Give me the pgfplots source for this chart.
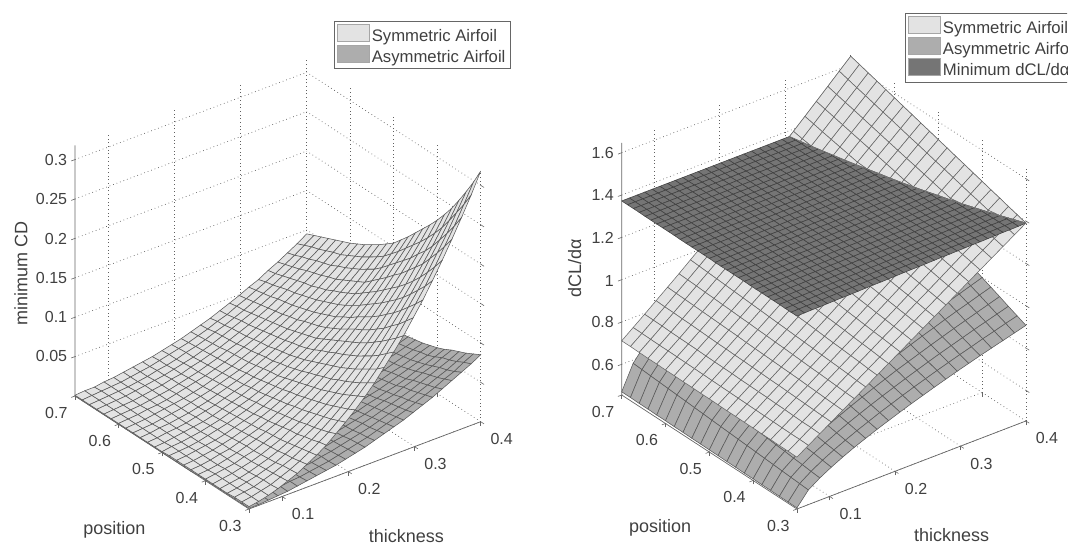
\documentclass[border=0pt]{standalone}
\usepackage{pgfplots}
\pgfplotsset{compat=1.18}
\usepackage{fontspec}
\setmainfont{Liberation Sans}
\definecolor{txt}{gray}{0.25}
\definecolor{lt}{gray}{0.89}
\definecolor{md}{gray}{0.68}
\definecolor{dk}{gray}{0.46}
\pgfplotsset{
  panel/.style={
    anchor=south west,
    xmin=0.05,xmax=0.4,ymin=0.3,ymax=0.7,
    xtick={0.1,0.2,0.3,0.4},ytick={0.3,0.4,0.5,0.6,0.7},
    tick pos=left,
    grid=major,
    grid style={line width=0.7pt,dash pattern=on 0.7pt off 3pt,gray!75!black},
    axis line style={draw=none},
    tick style={color=gray!80!black,line width=0.6pt},
    major tick length=4pt,
    tick align=outside,
    tick label style={font=\fontsize{16}{18}\selectfont,text=txt},
    xticklabel style={xshift=11pt,yshift=-3pt},
    yticklabel style={xshift=-6pt,yshift=-2.5pt},
    zticklabel style={xshift=-1pt,yshift=-4pt},
    /pgf/number format/assume math mode=true,
    /pgf/number format/fixed,
    label style={font=\fontsize{18}{20}\selectfont,text=txt},
    legend cell align=left,
    legend style={font=\fontsize{16.7}{21}\selectfont,text=txt,draw=gray!80!black,line width=0.8pt,inner xsep=3pt,inner ysep=2.5pt,anchor=north west,row sep=0pt},
    clip=false,
  },
  leg/.style={legend image code/.code={\path[draw=gray!70,fill=#1,line width=0.6pt] (0pt,-5pt) rectangle (32pt,12pt);}},
  sf/.style 2 args={surf,forget plot,shader=faceted,faceted color=#2,line width=0.55pt,colormap={c#1}{color=(#1) color=(#1)}},
  table/gL/.style={x expr={0.05+0.35*mod(\coordindex,25)/24},y expr={0.3+0.4*floor((\coordindex+0.5)/25)/24},z index=0,row sep=crcr,header=false},
  table/gR/.style={x expr={0.05+0.35*mod(\coordindex,21)/20},y expr={0.3+0.4*floor((\coordindex+0.5)/21)/20},z index=0,row sep=crcr,header=false},
  table/gD/.style={x expr={0.05+0.35*mod(\coordindex,31)/30},y expr={0.3+0.4*floor((\coordindex+0.5)/31)/30},z index=0,row sep=crcr,header=false},
}
\begin{document}
\begin{tikzpicture}
\path[use as bounding box] (0,0) rectangle (1069pt,543pt);
\clip (0,0) rectangle (1067pt,543pt);
\begin{axis}[panel,at={(75pt,34pt)},
  x={(662pt,249.4pt)},y={(-435pt,282.5pt)},z={(0pt,788pt)},
  zmin=0,zmax=0.318,ztick={0.05,0.1,0.15,0.2,0.25,0.3},
  xlabel={thickness},ylabel={position},zlabel={minimum CD},
  x label style={at={(axis description cs:0.817,-0.061)},anchor=center,rotate=0},
  y label style={at={(axis description cs:0.097,-0.046)},anchor=center,rotate=0},
  z label style={at={(axis description cs:-0.133,0.523)},anchor=center},
  legend style={at={(axis description cs:0.638,1.083)}},
]
\addlegendimage{leg=lt}
\addlegendimage{leg=md}
\addplot3[sf={md}{black!65},mesh/rows=25,mesh/cols=25] table[gL]{
.001\\.001\\.002\\.003\\.004\\.006\\.008\\.010\\.012\\.014\\.017\\.020\\.023\\.027\\.031\\.035\\.039\\.044\\.049\\.054\\.060\\.066\\.072\\.078\\.085\\
.001\\.001\\.002\\.003\\.004\\.006\\.007\\.009\\.011\\.013\\.016\\.019\\.022\\.025\\.029\\.033\\.037\\.041\\.046\\.051\\.056\\.062\\.067\\.074\\.080\\
.001\\.001\\.002\\.003\\.004\\.005\\.007\\.009\\.010\\.013\\.015\\.018\\.021\\.024\\.027\\.031\\.035\\.039\\.043\\.048\\.053\\.058\\.063\\.069\\.075\\
.001\\.001\\.002\\.003\\.004\\.005\\.006\\.008\\.010\\.012\\.014\\.017\\.019\\.022\\.026\\.029\\.033\\.037\\.041\\.045\\.050\\.055\\.060\\.065\\.071\\
.001\\.001\\.002\\.003\\.004\\.005\\.006\\.008\\.009\\.011\\.013\\.016\\.018\\.021\\.024\\.027\\.031\\.035\\.038\\.043\\.047\\.052\\.056\\.062\\.067\\
.001\\.001\\.002\\.002\\.003\\.004\\.006\\.007\\.009\\.010\\.012\\.015\\.017\\.020\\.022\\.025\\.029\\.032\\.036\\.039\\.043\\.048\\.052\\.057\\.062\\
.001\\.001\\.002\\.002\\.003\\.004\\.005\\.007\\.008\\.010\\.012\\.014\\.016\\.018\\.021\\.024\\.027\\.030\\.033\\.037\\.041\\.045\\.049\\.053\\.058\\
.001\\.001\\.001\\.002\\.003\\.004\\.005\\.006\\.008\\.009\\.011\\.013\\.015\\.017\\.020\\.022\\.025\\.028\\.032\\.035\\.039\\.042\\.046\\.051\\.055\\
.000\\.001\\.001\\.002\\.003\\.004\\.005\\.006\\.007\\.009\\.010\\.012\\.014\\.016\\.019\\.021\\.024\\.027\\.030\\.033\\.036\\.040\\.044\\.048\\.052\\
.000\\.001\\.001\\.002\\.003\\.004\\.005\\.006\\.007\\.008\\.010\\.012\\.014\\.016\\.018\\.020\\.023\\.026\\.029\\.032\\.035\\.039\\.042\\.046\\.050\\
.000\\.001\\.001\\.002\\.003\\.003\\.004\\.005\\.007\\.008\\.010\\.011\\.013\\.015\\.017\\.020\\.022\\.025\\.028\\.031\\.034\\.037\\.040\\.044\\.048\\
.000\\.001\\.001\\.002\\.002\\.003\\.004\\.005\\.006\\.008\\.009\\.011\\.013\\.015\\.017\\.019\\.021\\.024\\.026\\.029\\.032\\.035\\.039\\.042\\.046\\
.000\\.001\\.001\\.002\\.002\\.003\\.004\\.005\\.006\\.007\\.009\\.010\\.012\\.014\\.016\\.018\\.020\\.023\\.025\\.028\\.031\\.034\\.037\\.040\\.044\\
.000\\.001\\.001\\.002\\.002\\.003\\.004\\.005\\.006\\.007\\.008\\.010\\.012\\.013\\.015\\.017\\.019\\.022\\.024\\.027\\.029\\.032\\.035\\.039\\.042\\
.000\\.001\\.001\\.002\\.002\\.003\\.004\\.005\\.006\\.007\\.008\\.010\\.011\\.013\\.015\\.017\\.019\\.021\\.024\\.026\\.029\\.032\\.035\\.038\\.041\\
.000\\.001\\.001\\.001\\.002\\.003\\.004\\.004\\.005\\.007\\.008\\.009\\.011\\.012\\.014\\.016\\.018\\.020\\.022\\.025\\.027\\.030\\.033\\.036\\.039\\
.000\\.001\\.001\\.001\\.002\\.003\\.003\\.004\\.005\\.006\\.008\\.009\\.010\\.012\\.014\\.016\\.017\\.020\\.022\\.024\\.027\\.029\\.032\\.035\\.038\\
.000\\.001\\.001\\.001\\.002\\.003\\.003\\.004\\.005\\.006\\.007\\.008\\.010\\.011\\.013\\.015\\.017\\.019\\.021\\.023\\.025\\.028\\.030\\.033\\.036\\
.000\\.001\\.001\\.001\\.002\\.002\\.003\\.004\\.005\\.006\\.007\\.008\\.010\\.011\\.013\\.014\\.016\\.018\\.020\\.022\\.025\\.027\\.030\\.032\\.035\\
.000\\.001\\.001\\.001\\.002\\.002\\.003\\.004\\.005\\.006\\.007\\.008\\.009\\.011\\.012\\.014\\.016\\.018\\.020\\.022\\.024\\.026\\.029\\.031\\.034\\
.000\\.001\\.001\\.001\\.002\\.002\\.003\\.004\\.005\\.006\\.007\\.008\\.009\\.010\\.012\\.013\\.015\\.017\\.019\\.021\\.023\\.025\\.028\\.030\\.033\\
.000\\.001\\.001\\.001\\.002\\.002\\.003\\.004\\.004\\.005\\.006\\.008\\.009\\.010\\.012\\.013\\.015\\.016\\.018\\.020\\.022\\.025\\.027\\.029\\.032\\
.000\\.001\\.001\\.001\\.002\\.002\\.003\\.004\\.004\\.005\\.006\\.007\\.008\\.010\\.011\\.013\\.014\\.016\\.018\\.020\\.022\\.024\\.026\\.029\\.031\\
.000\\.001\\.001\\.001\\.002\\.002\\.003\\.003\\.004\\.005\\.006\\.007\\.008\\.010\\.011\\.012\\.014\\.016\\.018\\.019\\.021\\.024\\.026\\.028\\.031\\
.000\\.000\\.001\\.001\\.002\\.002\\.003\\.003\\.004\\.005\\.006\\.007\\.008\\.009\\.011\\.012\\.014\\.015\\.017\\.019\\.021\\.023\\.025\\.028\\.030\\
};
\addplot3[sf={lt}{black!65},mesh/rows=25,mesh/cols=25] table[gL]{
.003\\.005\\.008\\.012\\.017\\.022\\.029\\.036\\.044\\.054\\.064\\.075\\.087\\.100\\.115\\.130\\.146\\.164\\.182\\.202\\.223\\.245\\.268\\.292\\.318\\
.003\\.005\\.008\\.011\\.016\\.021\\.027\\.034\\.042\\.050\\.060\\.070\\.082\\.094\\.107\\.122\\.137\\.154\\.171\\.189\\.209\\.230\\.251\\.274\\.298\\
.003\\.005\\.007\\.011\\.015\\.020\\.025\\.032\\.039\\.047\\.056\\.066\\.077\\.088\\.101\\.114\\.129\\.144\\.161\\.178\\.196\\.216\\.236\\.258\\.280\\
.002\\.004\\.007\\.010\\.014\\.018\\.024\\.030\\.037\\.044\\.053\\.062\\.072\\.083\\.095\\.107\\.121\\.136\\.151\\.167\\.184\\.203\\.222\\.242\\.263\\
.002\\.004\\.006\\.009\\.013\\.017\\.022\\.028\\.034\\.042\\.050\\.058\\.068\\.078\\.089\\.101\\.114\\.127\\.142\\.157\\.173\\.190\\.208\\.227\\.247\\
.002\\.004\\.006\\.009\\.012\\.016\\.021\\.026\\.033\\.039\\.047\\.055\\.064\\.074\\.084\\.095\\.107\\.120\\.134\\.148\\.163\\.180\\.196\\.214\\.233\\
.002\\.004\\.006\\.008\\.012\\.015\\.020\\.025\\.031\\.037\\.044\\.052\\.060\\.069\\.079\\.090\\.101\\.113\\.126\\.140\\.154\\.170\\.186\\.202\\.220\\
.002\\.003\\.005\\.008\\.011\\.015\\.019\\.024\\.029\\.035\\.042\\.049\\.057\\.066\\.075\\.085\\.096\\.107\\.119\\.132\\.146\\.160\\.175\\.191\\.208\\
.002\\.003\\.005\\.008\\.010\\.014\\.018\\.022\\.027\\.033\\.039\\.046\\.054\\.062\\.071\\.081\\.091\\.102\\.113\\.125\\.138\\.152\\.166\\.181\\.197\\
.002\\.003\\.005\\.007\\.010\\.013\\.017\\.021\\.026\\.031\\.037\\.044\\.051\\.059\\.067\\.076\\.086\\.096\\.107\\.118\\.130\\.143\\.157\\.171\\.186\\
.002\\.003\\.005\\.007\\.009\\.012\\.016\\.020\\.024\\.029\\.035\\.041\\.048\\.055\\.063\\.072\\.081\\.090\\.100\\.111\\.123\\.135\\.148\\.161\\.175\\
.002\\.003\\.004\\.006\\.009\\.012\\.015\\.019\\.023\\.028\\.033\\.039\\.045\\.052\\.059\\.067\\.076\\.085\\.095\\.105\\.116\\.127\\.139\\.152\\.165\\
.001\\.003\\.004\\.006\\.008\\.011\\.014\\.018\\.022\\.026\\.031\\.037\\.042\\.049\\.056\\.063\\.071\\.080\\.089\\.099\\.109\\.119\\.131\\.143\\.155\\
.001\\.002\\.004\\.006\\.008\\.010\\.013\\.017\\.021\\.025\\.030\\.035\\.041\\.047\\.053\\.060\\.068\\.076\\.085\\.094\\.104\\.114\\.125\\.136\\.148\\
.001\\.002\\.004\\.005\\.007\\.010\\.013\\.016\\.020\\.024\\.028\\.033\\.039\\.044\\.051\\.058\\.065\\.073\\.081\\.090\\.099\\.109\\.119\\.130\\.141\\
.001\\.002\\.004\\.005\\.007\\.009\\.012\\.015\\.019\\.023\\.027\\.032\\.037\\.043\\.049\\.055\\.062\\.070\\.077\\.086\\.095\\.104\\.114\\.124\\.135\\
.001\\.002\\.003\\.005\\.007\\.009\\.012\\.015\\.018\\.022\\.026\\.030\\.035\\.041\\.046\\.053\\.059\\.066\\.074\\.082\\.090\\.099\\.109\\.119\\.129\\
.001\\.002\\.003\\.005\\.007\\.009\\.011\\.014\\.017\\.021\\.025\\.029\\.034\\.039\\.045\\.051\\.057\\.064\\.071\\.079\\.087\\.096\\.105\\.114\\.124\\
.001\\.002\\.003\\.005\\.006\\.008\\.011\\.014\\.017\\.020\\.024\\.028\\.033\\.038\\.043\\.049\\.055\\.061\\.068\\.076\\.083\\.092\\.100\\.109\\.119\\
.001\\.002\\.003\\.004\\.006\\.008\\.010\\.013\\.016\\.019\\.023\\.027\\.032\\.036\\.041\\.047\\.053\\.059\\.066\\.073\\.081\\.089\\.097\\.106\\.115\\
.001\\.002\\.003\\.004\\.006\\.008\\.010\\.013\\.015\\.019\\.022\\.026\\.030\\.035\\.040\\.045\\.051\\.057\\.064\\.071\\.078\\.086\\.094\\.102\\.111\\
.001\\.002\\.003\\.004\\.006\\.008\\.010\\.012\\.015\\.018\\.021\\.025\\.029\\.034\\.039\\.044\\.049\\.055\\.061\\.068\\.075\\.082\\.090\\.098\\.107\\
.001\\.002\\.003\\.004\\.005\\.007\\.009\\.012\\.014\\.017\\.021\\.024\\.028\\.033\\.037\\.042\\.047\\.053\\.059\\.065\\.072\\.079\\.087\\.095\\.103\\
.001\\.002\\.003\\.004\\.005\\.007\\.009\\.011\\.014\\.017\\.020\\.023\\.027\\.031\\.036\\.040\\.046\\.051\\.057\\.063\\.069\\.076\\.083\\.091\\.099\\
.001\\.002\\.002\\.004\\.005\\.007\\.009\\.011\\.013\\.016\\.019\\.022\\.026\\.030\\.034\\.039\\.044\\.049\\.055\\.060\\.067\\.073\\.080\\.087\\.095\\
};
\legend{Symmetric Airfoil,Asymmetric Airfoil}
\draw[gray!80!black,line width=0.7pt] (axis cs:0.05,0.7,0.318)--(axis cs:0.05,0.7,0)--(axis cs:0.05,0.3,0)--(axis cs:0.4,0.3,0);
\end{axis}
\begin{axis}[panel,at={(621.7pt,34pt)},
  x={(654.3pt,251.4pt)},y={(-438pt,285pt)},z={(0pt,211.6pt)},
  zmin=0.455,zmax=1.646,ztick={0.6,0.8,1,1.2,1.4,1.6},
  xlabel={thickness},ylabel={position},zlabel={dCL/dα},
  x label style={at={(axis description cs:0.8165,-0.057)},anchor=center,rotate=0},
  y label style={at={(axis description cs:0.095,-0.042)},anchor=center,rotate=0},
  z label style={at={(axis description cs:-0.116,0.530)},anchor=center},
  legend style={at={(axis description cs:0.7007,1.092)}},
]
\addlegendimage{leg=lt}
\addlegendimage{leg=md}
\addlegendimage{leg=dk}
\addplot3[sf={md}{black!65},mesh/rows=21,mesh/cols=21] table[gR]{
.460\\.524\\.560\\.590\\.617\\.642\\.664\\.686\\.706\\.726\\.745\\.763\\.781\\.798\\.815\\.831\\.847\\.862\\.877\\.892\\.907\\
.461\\.527\\.564\\.596\\.624\\.649\\.673\\.695\\.717\\.737\\.757\\.776\\.794\\.812\\.829\\.846\\.862\\.879\\.894\\.910\\.925\\
.461\\.530\\.569\\.602\\.630\\.657\\.682\\.705\\.727\\.748\\.768\\.788\\.807\\.826\\.844\\.861\\.878\\.895\\.911\\.927\\.943\\
.462\\.533\\.573\\.607\\.637\\.665\\.690\\.714\\.737\\.759\\.780\\.801\\.820\\.839\\.858\\.876\\.894\\.911\\.928\\.945\\.962\\
.462\\.536\\.578\\.613\\.644\\.672\\.699\\.724\\.747\\.770\\.792\\.813\\.833\\.853\\.873\\.891\\.910\\.928\\.945\\.963\\.980\\
.463\\.539\\.582\\.618\\.651\\.680\\.707\\.733\\.758\\.781\\.804\\.825\\.847\\.867\\.887\\.907\\.926\\.944\\.962\\.980\\.998\\
.463\\.542\\.587\\.624\\.657\\.688\\.716\\.742\\.768\\.792\\.815\\.838\\.860\\.881\\.902\\.922\\.941\\.961\\.979\\.998\\1.016\\
.464\\.545\\.591\\.630\\.664\\.695\\.724\\.752\\.778\\.803\\.827\\.850\\.873\\.895\\.916\\.937\\.957\\.977\\.996\\1.015\\1.034\\
.464\\.548\\.596\\.635\\.671\\.703\\.733\\.761\\.788\\.814\\.839\\.863\\.886\\.909\\.931\\.952\\.973\\.993\\1.013\\1.033\\1.052\\
.465\\.551\\.600\\.641\\.677\\.711\\.742\\.771\\.799\\.825\\.851\\.875\\.899\\.922\\.945\\.967\\.989\\1.010\\1.030\\1.051\\1.070\\
.465\\.554\\.605\\.647\\.684\\.718\\.750\\.780\\.809\\.836\\.862\\.888\\.912\\.936\\.960\\.982\\1.004\\1.026\\1.047\\1.068\\1.089\\
.466\\.557\\.609\\.652\\.691\\.726\\.759\\.790\\.819\\.847\\.874\\.900\\.926\\.950\\.974\\.997\\1.020\\1.042\\1.064\\1.086\\1.107\\
.466\\.560\\.614\\.658\\.697\\.734\\.767\\.799\\.829\\.858\\.886\\.913\\.939\\.964\\.989\\1.012\\1.036\\1.059\\1.081\\1.103\\1.125\\
.467\\.563\\.618\\.664\\.704\\.741\\.776\\.808\\.839\\.869\\.898\\.925\\.952\\.978\\1.003\\1.028\\1.052\\1.075\\1.098\\1.121\\1.143\\
.467\\.566\\.622\\.669\\.711\\.749\\.784\\.818\\.850\\.880\\.909\\.938\\.965\\.992\\1.018\\1.043\\1.067\\1.092\\1.115\\1.138\\1.161\\
.468\\.569\\.627\\.675\\.718\\.757\\.793\\.827\\.860\\.891\\.921\\.950\\.978\\1.005\\1.032\\1.058\\1.083\\1.108\\1.132\\1.156\\1.179\\
.468\\.572\\.631\\.681\\.724\\.764\\.801\\.837\\.870\\.902\\.933\\.963\\.991\\1.019\\1.046\\1.073\\1.099\\1.124\\1.149\\1.173\\1.197\\
.469\\.575\\.636\\.686\\.731\\.772\\.810\\.846\\.880\\.913\\.945\\.975\\1.005\\1.033\\1.061\\1.088\\1.115\\1.141\\1.166\\1.191\\1.216\\
.469\\.578\\.640\\.692\\.738\\.780\\.819\\.855\\.891\\.924\\.956\\.987\\1.018\\1.047\\1.075\\1.103\\1.130\\1.157\\1.183\\1.209\\1.234\\
.470\\.581\\.645\\.697\\.744\\.787\\.827\\.865\\.901\\.935\\.968\\1.000\\1.031\\1.061\\1.090\\1.118\\1.146\\1.174\\1.200\\1.226\\1.252\\
.470\\.584\\.649\\.703\\.751\\.795\\.836\\.874\\.911\\.946\\.980\\1.012\\1.044\\1.075\\1.104\\1.134\\1.162\\1.190\\1.217\\1.244\\1.270\\
};
\addplot3[sf={lt}{black!60},mesh/rows=21,mesh/cols=21] table[gR]{
.700\\.735\\.769\\.804\\.838\\.873\\.907\\.942\\.976\\1.011\\1.045\\1.080\\1.114\\1.149\\1.183\\1.218\\1.252\\1.287\\1.321\\1.356\\1.390\\
.701\\.736\\.771\\.805\\.840\\.875\\.910\\.945\\.980\\1.016\\1.051\\1.086\\1.121\\1.156\\1.191\\1.226\\1.262\\1.297\\1.332\\1.367\\1.403\\
.701\\.736\\.771\\.807\\.842\\.878\\.914\\.950\\.985\\1.021\\1.056\\1.092\\1.128\\1.163\\1.199\\1.235\\1.271\\1.306\\1.342\\1.378\\1.415\\
.702\\.737\\.773\\.809\\.845\\.881\\.917\\.953\\.989\\1.025\\1.062\\1.098\\1.135\\1.171\\1.208\\1.244\\1.281\\1.317\\1.354\\1.391\\1.428\\
.702\\.738\\.775\\.811\\.847\\.884\\.920\\.957\\.993\\1.030\\1.067\\1.104\\1.141\\1.178\\1.215\\1.253\\1.290\\1.327\\1.365\\1.402\\1.440\\
.703\\.739\\.776\\.813\\.850\\.886\\.923\\.960\\.998\\1.035\\1.073\\1.110\\1.148\\1.186\\1.223\\1.261\\1.299\\1.337\\1.375\\1.414\\1.453\\
.703\\.740\\.778\\.815\\.852\\.889\\.927\\.964\\1.002\\1.040\\1.078\\1.116\\1.155\\1.193\\1.232\\1.270\\1.309\\1.347\\1.387\\1.426\\1.465\\
.704\\.741\\.779\\.816\\.854\\.892\\.930\\.968\\1.006\\1.045\\1.084\\1.122\\1.161\\1.200\\1.239\\1.279\\1.318\\1.358\\1.398\\1.438\\1.478\\
.704\\.742\\.780\\.818\\.856\\.895\\.933\\.972\\1.010\\1.050\\1.089\\1.128\\1.168\\1.208\\1.247\\1.287\\1.328\\1.368\\1.409\\1.450\\1.490\\
.705\\.743\\.781\\.820\\.858\\.897\\.936\\.975\\1.015\\1.054\\1.094\\1.134\\1.174\\1.215\\1.255\\1.296\\1.337\\1.379\\1.420\\1.461\\1.503\\
.706\\.744\\.783\\.822\\.860\\.900\\.939\\.979\\1.019\\1.059\\1.099\\1.140\\1.181\\1.222\\1.263\\1.305\\1.347\\1.389\\1.431\\1.473\\1.515\\
.706\\.745\\.784\\.823\\.862\\.902\\.942\\.982\\1.023\\1.064\\1.105\\1.146\\1.187\\1.229\\1.271\\1.313\\1.356\\1.399\\1.441\\1.485\\1.528\\
.707\\.746\\.785\\.825\\.865\\.905\\.945\\.986\\1.027\\1.068\\1.110\\1.152\\1.194\\1.236\\1.279\\1.322\\1.365\\1.409\\1.452\\1.496\\1.540\\
.707\\.747\\.786\\.826\\.867\\.907\\.948\\.989\\1.031\\1.073\\1.115\\1.158\\1.200\\1.244\\1.287\\1.331\\1.375\\1.419\\1.463\\1.508\\1.553\\
.708\\.748\\.788\\.828\\.869\\.910\\.951\\.993\\1.035\\1.077\\1.120\\1.164\\1.207\\1.251\\1.295\\1.340\\1.384\\1.429\\1.474\\1.520\\1.565\\
.708\\.749\\.789\\.830\\.871\\.912\\.954\\.996\\1.039\\1.082\\1.125\\1.170\\1.213\\1.258\\1.303\\1.348\\1.393\\1.439\\1.485\\1.531\\1.578\\
.709\\.750\\.790\\.832\\.873\\.915\\.957\\1.000\\1.043\\1.087\\1.130\\1.175\\1.219\\1.265\\1.310\\1.357\\1.402\\1.449\\1.496\\1.543\\1.590\\
.709\\.750\\.791\\.833\\.875\\.917\\.960\\1.003\\1.047\\1.091\\1.136\\1.181\\1.226\\1.272\\1.318\\1.365\\1.411\\1.459\\1.507\\1.555\\1.603\\
.710\\.751\\.793\\.835\\.877\\.920\\.963\\1.006\\1.051\\1.096\\1.141\\1.187\\1.232\\1.279\\1.326\\1.373\\1.420\\1.469\\1.517\\1.566\\1.615\\
.711\\.752\\.794\\.836\\.879\\.922\\.966\\1.010\\1.055\\1.100\\1.146\\1.192\\1.238\\1.286\\1.333\\1.381\\1.430\\1.479\\1.528\\1.578\\1.628\\
.711\\.753\\.795\\.838\\.881\\.924\\.969\\1.013\\1.059\\1.105\\1.151\\1.198\\1.245\\1.292\\1.341\\1.389\\1.439\\1.489\\1.539\\1.590\\1.640\\
};
\addplot3[sf={dk}{black!75},mesh/rows=31,mesh/cols=31] table[gD]{
1.367\\1.368\\1.369\\1.369\\1.370\\1.371\\1.372\\1.372\\1.373\\1.374\\1.375\\1.375\\1.376\\1.377\\1.378\\1.379\\1.379\\1.380\\1.381\\1.382\\1.382\\1.383\\1.384\\1.385\\1.385\\1.386\\1.387\\1.388\\1.388\\1.389\\1.390\\
1.367\\1.368\\1.369\\1.369\\1.370\\1.371\\1.372\\1.372\\1.373\\1.374\\1.375\\1.375\\1.376\\1.377\\1.378\\1.378\\1.379\\1.380\\1.381\\1.381\\1.382\\1.383\\1.383\\1.384\\1.385\\1.386\\1.386\\1.387\\1.388\\1.389\\1.389\\
1.367\\1.368\\1.369\\1.369\\1.370\\1.371\\1.372\\1.372\\1.373\\1.374\\1.374\\1.375\\1.376\\1.377\\1.377\\1.378\\1.379\\1.379\\1.380\\1.381\\1.382\\1.382\\1.383\\1.384\\1.384\\1.385\\1.386\\1.387\\1.387\\1.388\\1.389\\
1.368\\1.368\\1.369\\1.369\\1.370\\1.371\\1.372\\1.372\\1.373\\1.374\\1.374\\1.375\\1.376\\1.376\\1.377\\1.378\\1.379\\1.379\\1.380\\1.381\\1.381\\1.382\\1.383\\1.383\\1.384\\1.385\\1.385\\1.386\\1.387\\1.387\\1.388\\
1.368\\1.368\\1.369\\1.370\\1.370\\1.371\\1.372\\1.372\\1.373\\1.374\\1.374\\1.375\\1.376\\1.376\\1.377\\1.378\\1.378\\1.379\\1.380\\1.380\\1.381\\1.382\\1.382\\1.383\\1.384\\1.384\\1.385\\1.386\\1.386\\1.387\\1.388\\
1.368\\1.368\\1.369\\1.370\\1.370\\1.371\\1.372\\1.372\\1.373\\1.374\\1.374\\1.375\\1.376\\1.376\\1.377\\1.378\\1.378\\1.379\\1.380\\1.380\\1.381\\1.381\\1.382\\1.383\\1.383\\1.384\\1.385\\1.385\\1.386\\1.387\\1.387\\
1.368\\1.369\\1.369\\1.370\\1.370\\1.371\\1.372\\1.372\\1.373\\1.374\\1.374\\1.375\\1.375\\1.376\\1.377\\1.377\\1.378\\1.379\\1.379\\1.380\\1.380\\1.381\\1.382\\1.382\\1.383\\1.383\\1.384\\1.385\\1.385\\1.386\\1.386\\
1.368\\1.369\\1.369\\1.370\\1.370\\1.371\\1.372\\1.372\\1.373\\1.373\\1.374\\1.375\\1.375\\1.376\\1.376\\1.377\\1.378\\1.378\\1.379\\1.379\\1.380\\1.381\\1.381\\1.382\\1.382\\1.383\\1.383\\1.384\\1.385\\1.385\\1.386\\
1.368\\1.369\\1.369\\1.370\\1.371\\1.371\\1.372\\1.372\\1.373\\1.373\\1.374\\1.375\\1.375\\1.376\\1.376\\1.377\\1.377\\1.378\\1.379\\1.379\\1.380\\1.380\\1.381\\1.381\\1.382\\1.382\\1.383\\1.384\\1.384\\1.385\\1.385\\
1.369\\1.369\\1.370\\1.370\\1.371\\1.371\\1.372\\1.372\\1.373\\1.373\\1.374\\1.374\\1.375\\1.376\\1.376\\1.377\\1.377\\1.378\\1.378\\1.379\\1.379\\1.380\\1.380\\1.381\\1.381\\1.382\\1.383\\1.383\\1.384\\1.384\\1.385\\
1.369\\1.369\\1.370\\1.370\\1.371\\1.371\\1.372\\1.372\\1.373\\1.373\\1.374\\1.374\\1.375\\1.375\\1.376\\1.376\\1.377\\1.377\\1.378\\1.378\\1.379\\1.380\\1.380\\1.381\\1.381\\1.382\\1.382\\1.383\\1.383\\1.384\\1.384\\
1.369\\1.369\\1.370\\1.370\\1.371\\1.371\\1.372\\1.372\\1.373\\1.373\\1.374\\1.374\\1.375\\1.375\\1.376\\1.376\\1.377\\1.377\\1.378\\1.378\\1.379\\1.379\\1.380\\1.380\\1.381\\1.381\\1.382\\1.382\\1.382\\1.383\\1.383\\
1.369\\1.369\\1.370\\1.370\\1.371\\1.371\\1.372\\1.372\\1.373\\1.373\\1.374\\1.374\\1.375\\1.375\\1.376\\1.376\\1.376\\1.377\\1.377\\1.378\\1.378\\1.379\\1.379\\1.380\\1.380\\1.381\\1.381\\1.381\\1.382\\1.382\\1.383\\
1.369\\1.370\\1.370\\1.370\\1.371\\1.371\\1.372\\1.372\\1.373\\1.373\\1.373\\1.374\\1.374\\1.375\\1.375\\1.376\\1.376\\1.377\\1.377\\1.377\\1.378\\1.378\\1.379\\1.379\\1.380\\1.380\\1.380\\1.381\\1.381\\1.382\\1.382\\
1.369\\1.370\\1.370\\1.371\\1.371\\1.371\\1.372\\1.372\\1.373\\1.373\\1.373\\1.374\\1.374\\1.375\\1.375\\1.375\\1.376\\1.376\\1.377\\1.377\\1.378\\1.378\\1.378\\1.379\\1.379\\1.380\\1.380\\1.380\\1.381\\1.381\\1.382\\
1.370\\1.370\\1.370\\1.371\\1.371\\1.371\\1.372\\1.372\\1.373\\1.373\\1.373\\1.374\\1.374\\1.374\\1.375\\1.375\\1.376\\1.376\\1.376\\1.377\\1.377\\1.377\\1.378\\1.378\\1.379\\1.379\\1.379\\1.380\\1.380\\1.380\\1.381\\
1.370\\1.370\\1.370\\1.371\\1.371\\1.371\\1.372\\1.372\\1.373\\1.373\\1.373\\1.374\\1.374\\1.374\\1.375\\1.375\\1.375\\1.376\\1.376\\1.376\\1.377\\1.377\\1.378\\1.378\\1.378\\1.379\\1.379\\1.379\\1.380\\1.380\\1.380\\
1.370\\1.370\\1.371\\1.371\\1.371\\1.372\\1.372\\1.372\\1.372\\1.373\\1.373\\1.374\\1.374\\1.374\\1.375\\1.375\\1.375\\1.376\\1.376\\1.376\\1.377\\1.377\\1.377\\1.377\\1.378\\1.378\\1.378\\1.379\\1.379\\1.379\\1.380\\
1.370\\1.370\\1.371\\1.371\\1.371\\1.372\\1.372\\1.372\\1.372\\1.373\\1.373\\1.373\\1.374\\1.374\\1.374\\1.375\\1.375\\1.375\\1.376\\1.376\\1.376\\1.376\\1.377\\1.377\\1.377\\1.378\\1.378\\1.378\\1.378\\1.379\\1.379\\
1.370\\1.370\\1.371\\1.371\\1.371\\1.372\\1.372\\1.372\\1.372\\1.373\\1.373\\1.373\\1.374\\1.374\\1.374\\1.374\\1.375\\1.375\\1.375\\1.375\\1.376\\1.376\\1.376\\1.376\\1.377\\1.377\\1.377\\1.378\\1.378\\1.378\\1.378\\
1.370\\1.371\\1.371\\1.371\\1.371\\1.372\\1.372\\1.372\\1.372\\1.373\\1.373\\1.373\\1.373\\1.374\\1.374\\1.374\\1.374\\1.375\\1.375\\1.375\\1.375\\1.376\\1.376\\1.376\\1.376\\1.377\\1.377\\1.377\\1.377\\1.378\\1.378\\
1.371\\1.371\\1.371\\1.371\\1.371\\1.372\\1.372\\1.372\\1.372\\1.372\\1.373\\1.373\\1.373\\1.373\\1.374\\1.374\\1.374\\1.374\\1.374\\1.375\\1.375\\1.375\\1.375\\1.376\\1.376\\1.376\\1.376\\1.376\\1.377\\1.377\\1.377\\
1.371\\1.371\\1.371\\1.371\\1.371\\1.372\\1.372\\1.372\\1.372\\1.372\\1.373\\1.373\\1.373\\1.373\\1.373\\1.374\\1.374\\1.374\\1.374\\1.374\\1.375\\1.375\\1.375\\1.375\\1.375\\1.375\\1.376\\1.376\\1.376\\1.376\\1.376\\
1.371\\1.371\\1.371\\1.371\\1.372\\1.372\\1.372\\1.372\\1.372\\1.372\\1.373\\1.373\\1.373\\1.373\\1.373\\1.373\\1.374\\1.374\\1.374\\1.374\\1.374\\1.374\\1.375\\1.375\\1.375\\1.375\\1.375\\1.375\\1.376\\1.376\\1.376\\
1.371\\1.371\\1.371\\1.371\\1.372\\1.372\\1.372\\1.372\\1.372\\1.372\\1.373\\1.373\\1.373\\1.373\\1.373\\1.373\\1.373\\1.374\\1.374\\1.374\\1.374\\1.374\\1.374\\1.374\\1.375\\1.375\\1.375\\1.375\\1.375\\1.375\\1.376\\
1.371\\1.371\\1.371\\1.372\\1.372\\1.372\\1.372\\1.372\\1.372\\1.372\\1.372\\1.373\\1.373\\1.373\\1.373\\1.373\\1.373\\1.373\\1.373\\1.374\\1.374\\1.374\\1.374\\1.374\\1.374\\1.374\\1.374\\1.375\\1.375\\1.375\\1.375\\
1.371\\1.371\\1.372\\1.372\\1.372\\1.372\\1.372\\1.372\\1.372\\1.372\\1.372\\1.372\\1.373\\1.373\\1.373\\1.373\\1.373\\1.373\\1.373\\1.373\\1.373\\1.373\\1.374\\1.374\\1.374\\1.374\\1.374\\1.374\\1.374\\1.374\\1.374\\
1.372\\1.372\\1.372\\1.372\\1.372\\1.372\\1.372\\1.372\\1.372\\1.372\\1.372\\1.372\\1.372\\1.373\\1.373\\1.373\\1.373\\1.373\\1.373\\1.373\\1.373\\1.373\\1.373\\1.373\\1.373\\1.373\\1.373\\1.374\\1.374\\1.374\\1.374\\
1.372\\1.372\\1.372\\1.372\\1.372\\1.372\\1.372\\1.372\\1.372\\1.372\\1.372\\1.372\\1.372\\1.372\\1.372\\1.373\\1.373\\1.373\\1.373\\1.373\\1.373\\1.373\\1.373\\1.373\\1.373\\1.373\\1.373\\1.373\\1.373\\1.373\\1.373\\
1.372\\1.372\\1.372\\1.372\\1.372\\1.372\\1.372\\1.372\\1.372\\1.372\\1.372\\1.372\\1.372\\1.372\\1.372\\1.372\\1.372\\1.372\\1.372\\1.372\\1.372\\1.372\\1.372\\1.372\\1.373\\1.373\\1.373\\1.373\\1.373\\1.373\\1.373\\
1.372\\1.372\\1.372\\1.372\\1.372\\1.372\\1.372\\1.372\\1.372\\1.372\\1.372\\1.372\\1.372\\1.372\\1.372\\1.372\\1.372\\1.372\\1.372\\1.372\\1.372\\1.372\\1.372\\1.372\\1.372\\1.372\\1.372\\1.372\\1.372\\1.372\\1.372\\
};
\addplot3[sf={lt}{black!60},mesh/rows=21,mesh/cols=7] table[x expr={0.05+0.35*\thisrowno{0}},y expr={0.3+0.4*floor((\coordindex+0.5)/7)/20},z index=1,row sep=crcr,header=false]{
1 1.390\\1 1.390\\1 1.390\\1 1.390\\1 1.390\\1 1.390\\1 1.390\\
.981 1.389\\.981 1.389\\.981 1.389\\.981 1.389\\.981 1.389\\.981 1.389\\1 1.403\\
.963 1.387\\.963 1.387\\.963 1.387\\.963 1.387\\.963 1.387\\.963 1.387\\1 1.415\\
.945 1.386\\.945 1.386\\.945 1.386\\.945 1.386\\.945 1.386\\.95 1.391\\1 1.428\\
.928 1.385\\.928 1.385\\.928 1.385\\.928 1.385\\.928 1.385\\.95 1.403\\1 1.440\\
.911 1.384\\.911 1.384\\.911 1.384\\.911 1.384\\.911 1.384\\.95 1.414\\1 1.453\\
.896 1.383\\.896 1.383\\.896 1.383\\.896 1.383\\.9 1.387\\.95 1.426\\1 1.465\\
.882 1.382\\.882 1.382\\.882 1.382\\.882 1.382\\.9 1.398\\.95 1.438\\1 1.478\\
.867 1.381\\.867 1.381\\.867 1.381\\.867 1.381\\.9 1.409\\.95 1.450\\1 1.490\\
.853 1.380\\.853 1.380\\.853 1.380\\.853 1.380\\.9 1.420\\.95 1.461\\1 1.503\\
.84 1.379\\.84 1.379\\.84 1.379\\.85 1.388\\.9 1.431\\.95 1.473\\1 1.515\\
.828 1.378\\.828 1.378\\.828 1.378\\.85 1.399\\.9 1.441\\.95 1.485\\1 1.528\\
.816 1.378\\.816 1.378\\.816 1.378\\.85 1.409\\.9 1.452\\.95 1.496\\1 1.540\\
.804 1.377\\.804 1.377\\.804 1.377\\.85 1.419\\.9 1.463\\.95 1.508\\1 1.553\\
.793 1.376\\.793 1.376\\.8 1.384\\.85 1.429\\.9 1.474\\.95 1.520\\1 1.565\\
.782 1.375\\.782 1.375\\.8 1.393\\.85 1.439\\.9 1.485\\.95 1.531\\1 1.578\\
.771 1.375\\.771 1.375\\.8 1.402\\.85 1.449\\.9 1.496\\.95 1.543\\1 1.590\\
.761 1.374\\.761 1.374\\.8 1.411\\.85 1.459\\.9 1.507\\.95 1.555\\1 1.603\\
.751 1.373\\.751 1.373\\.8 1.420\\.85 1.469\\.9 1.517\\.95 1.566\\1 1.615\\
.742 1.373\\.75 1.381\\.8 1.430\\.85 1.479\\.9 1.528\\.95 1.578\\1 1.628\\
.733 1.372\\.75 1.389\\.8 1.439\\.85 1.489\\.9 1.539\\.95 1.590\\1 1.640\\
};
\legend{Symmetric Airfoil,Asymmetric Airfoil,Minimum dCL/dα}
\draw[gray!80!black,line width=0.7pt] (axis cs:0.05,0.7,1.646)--(axis cs:0.05,0.7,0.455)--(axis cs:0.05,0.3,0.455)--(axis cs:0.4,0.3,0.455);
\end{axis}
\end{tikzpicture}
\end{document}
